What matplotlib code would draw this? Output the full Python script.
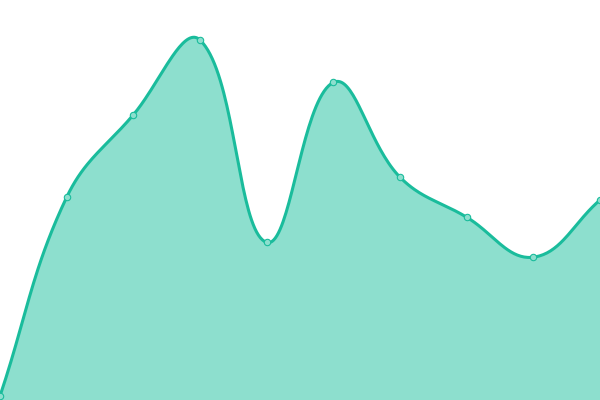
import numpy as np
import matplotlib
matplotlib.use('Agg')
import matplotlib.pyplot as plt

# ---------------------------------------------------------------------------
labels = ['A', 'B', 'C', 'D', 'E', 'F', 'G', 'H', 'I', 'J']
values = [1.0, 50.7, 71.3, 90.0, 39.4, 79.4, 55.7, 45.7, 35.7, 50.0]

LINE_COLOR = '#1abc9c'
FILL_COLOR = '#8ddfce'
TENSION    = 0.4
W, H       = 600, 400
YMAX       = 100.0
# ---------------------------------------------------------------------------


def spline_path(xs, ys, tension, n=40):
    """Chart.js-style bezier through the points (computed in pixel space)."""
    px = np.asarray(xs, float) * W / (len(xs) - 1)
    py = np.asarray(ys, float) * H / YMAX
    m = len(px)
    c1 = np.zeros((m, 2))
    c2 = np.zeros((m, 2))
    for i in range(m):
        p0 = np.array([px[max(i - 1, 0)], py[max(i - 1, 0)]])
        p1 = np.array([px[i], py[i]])
        p2 = np.array([px[min(i + 1, m - 1)], py[min(i + 1, m - 1)]])
        d01 = np.hypot(*(p1 - p0))
        d12 = np.hypot(*(p2 - p1))
        s01 = d01 / (d01 + d12) if d01 + d12 else 0
        s12 = d12 / (d01 + d12) if d01 + d12 else 0
        fa, fb = tension * s01, tension * s12
        c1[i] = p1 - fa * (p2 - p0)
        c2[i] = p1 + fb * (p2 - p0)
    t = np.linspace(0, 1, n)[:, None]
    seg = []
    for i in range(m - 1):
        a = np.array([px[i], py[i]])
        b = c2[i]
        c = c1[i + 1]
        d = np.array([px[i + 1], py[i + 1]])
        pts = ((1 - t) ** 3) * a + 3 * ((1 - t) ** 2) * t * b \
            + 3 * (1 - t) * t ** 2 * c + t ** 3 * d
        seg.append(pts if i == 0 else pts[1:])
    pts = np.vstack(seg)
    return pts[:, 0] * (len(xs) - 1) / W, pts[:, 1] * YMAX / H


def main():
    x = np.arange(len(values))
    sx, sy = spline_path(x, values, TENSION)

    fig = plt.figure(figsize=(6, 4), dpi=100)
    ax = fig.add_axes([0, 0, 1, 1])
    ax.fill_between(sx, sy, 0, color=FILL_COLOR, lw=0)
    ax.plot(sx, sy, color=LINE_COLOR, lw=2.2, solid_capstyle='round')
    ax.plot(x, values, 'o', ms=4.6, mfc=FILL_COLOR, mec=LINE_COLOR,
            mew=0.8, clip_on=False)
    ax.set_xlim(0, len(values) - 1)
    ax.set_ylim(0, YMAX)
    ax.axis('off')
    fig.savefig('out.png', dpi=100)
    plt.close(fig)


if __name__ == '__main__':
    main()
